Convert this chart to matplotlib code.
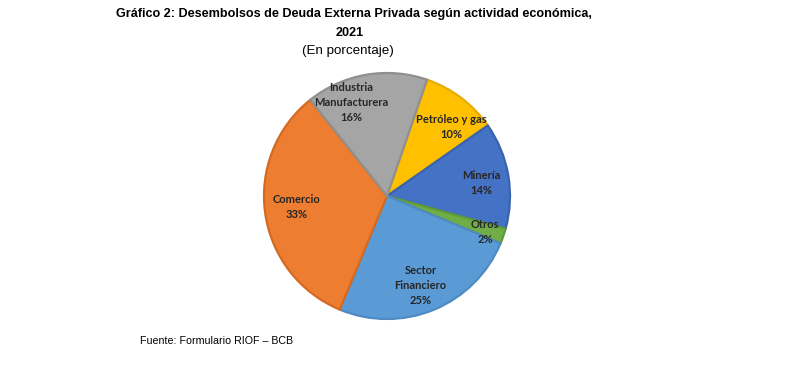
import matplotlib.pyplot as plt
import numpy as np

# datos
sectores = ["Petróleo y gas", "Minería", "Otros", "Sector\nFinanciero", "Comercio", "Industria\nManufacturera"]
porcentajes = [10, 14, 2, 25, 33, 16]
colores = ["#FFC000", "#4472C4", "#70AD47", "#5B9BD5", "#ED7D31", "#A5A5A5"]
bordes = ["#E6AD00", "#3A63AD", "#5F9A3B", "#4F8AC2", "#D46A22", "#8F8F8F"]

# posicion de las etiquetas (radio, ajuste angular en grados)
etiq_radio = [0.77, 0.77, 0.85, 0.78, 0.74, 0.81]
etiq_ajuste = [-6, -2, -1, -2, -1, 11]

fig = plt.figure(figsize=(7.9, 3.68), dpi=100)
W, H = 790, 368
cx, cy, r = 387, 196, 123
lim = 1.02
size = 2 * lim * r
ax = fig.add_axes([(cx - size / 2) / W, (H - cy - size / 2) / H, size / W, size / H])

wedges, _ = ax.pie(porcentajes, colors=colores, startangle=71, counterclock=False,
                   radius=1.0, wedgeprops=dict(linewidth=1.6))
for w, c in zip(wedges, bordes):
    w.set_edgecolor(c)

for w, lab, p, rr, adj in zip(wedges, sectores, porcentajes, etiq_radio, etiq_ajuste):
    ang = np.deg2rad((w.theta1 + w.theta2) / 2 + adj)
    ax.text(rr * np.cos(ang), rr * np.sin(ang), f"{lab}\n{p}%", ha="center", va="center",
            fontsize=8, fontweight="bold", family="Lato", color="#262626", linespacing=1.45)

ax.set_xlim(-lim, lim)
ax.set_ylim(-lim, lim)
ax.set_aspect("equal")
ax.axis("off")

fig.text(354 / W, 1 - 14 / H, "Gráfico 2: Desembolsos de Deuda Externa Privada según actividad económica,",
         ha="center", va="center", fontsize=9.1, fontweight="bold", family="Liberation Sans")
fig.text(350 / W, 1 - 33 / H, "2021", ha="center", va="center", fontsize=9.1,
         fontweight="bold", family="Liberation Sans")
fig.text(348 / W, 1 - 51 / H, "(En porcentaje)", ha="center", va="center", fontsize=9.6,
         family="Liberation Sans")
fig.text(140 / W, 1 - 341 / H, "Fuente: Formulario RIOF – BCB", ha="left", va="center",
         fontsize=7.7, family="Liberation Sans")

fig.savefig("out.png", dpi=100)
